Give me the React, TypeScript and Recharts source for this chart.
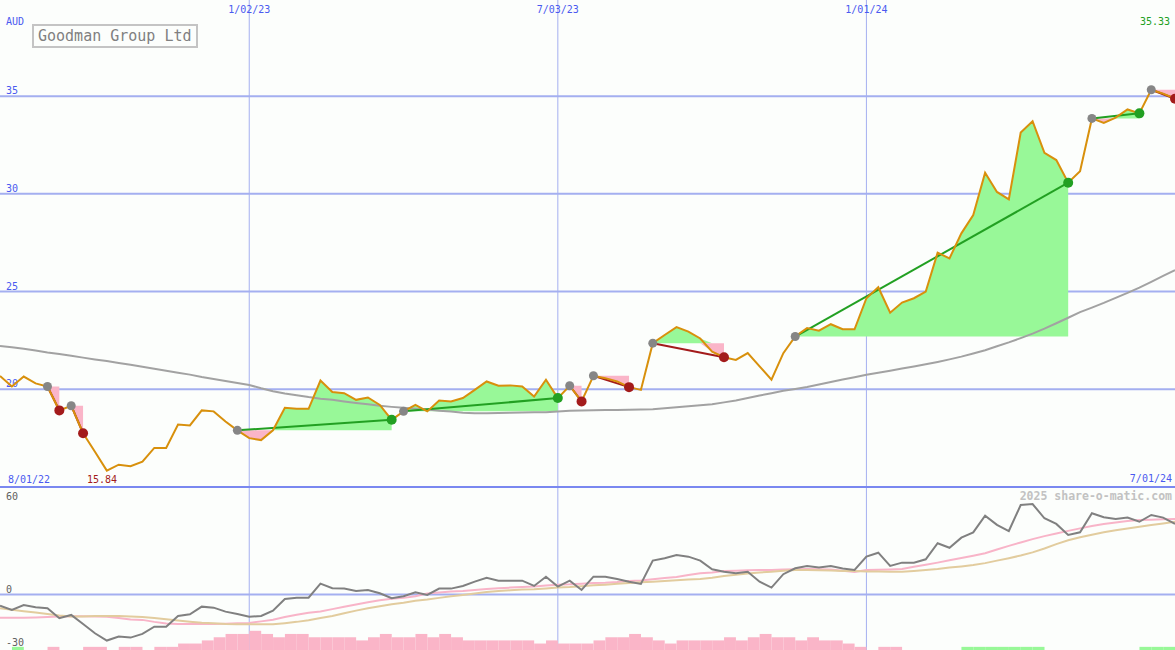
import { Area, Bar, ComposedChart, Line, ReferenceLine, XAxis, YAxis } from "recharts";

// weekly closes, Aug 2022 .. Jul 2024
const price = [
  20.68, 20.14, 20.65, 20.3, 20.14, 18.92, 19.16, 17.75, 16.8, 15.84,
  16.14, 16.06, 16.3, 17.0, 17.0, 18.2, 18.15, 18.92, 18.87, 18.35,
  17.9, 17.5, 17.4, 17.9, 19.05, 19.0, 19.0, 20.45, 19.86, 19.8,
  19.46, 19.58, 19.2, 18.44, 18.87, 19.2, 18.87, 19.43, 19.38, 19.55,
  19.97, 20.4, 20.18, 20.2, 20.14, 19.63, 20.49, 19.55, 20.18, 19.38,
  20.69, 20.57, 20.4, 20.11, 19.97, 22.36, 22.78, 23.18, 22.95, 22.6,
  21.93, 21.64, 21.5, 21.85, 21.17, 20.49, 21.85, 22.7, 23.13, 23.0,
  23.33, 23.07, 23.07, 24.66, 25.22, 23.92, 24.44, 24.66, 25.0, 26.99,
  26.7, 27.98, 28.92, 31.08, 30.1, 29.72, 33.14, 33.72, 32.1, 31.73,
  30.57, 31.16, 33.86, 33.63, 33.9, 34.32, 34.12, 35.33, 35.13, 34.87,
];

const longAverage = [
  22.22, 22.15, 22.08, 21.98, 21.88, 21.8, 21.72, 21.62, 21.53, 21.45,
  21.35, 21.25, 21.15, 21.05, 20.95, 20.85, 20.75, 20.63, 20.53, 20.42,
  20.32, 20.22, 20.05, 19.9, 19.78, 19.7, 19.6, 19.52, 19.46, 19.38,
  19.3, 19.23, 19.16, 19.1, 19.05, 19.0, 18.96, 18.9, 18.86, 18.8,
  18.78, 18.78, 18.79, 18.8, 18.81, 18.82, 18.83, 18.86, 18.9, 18.92,
  18.93, 18.94, 18.94, 18.95, 18.96, 18.98, 19.03, 19.08, 19.13, 19.18,
  19.24, 19.33, 19.43, 19.55, 19.68, 19.8, 19.92, 20.02, 20.12, 20.24,
  20.37, 20.5, 20.62, 20.74, 20.85, 20.95, 21.06, 21.17, 21.28, 21.4,
  21.53, 21.67, 21.83, 22.0, 22.2, 22.4, 22.62, 22.85, 23.1, 23.38,
  23.66, 23.95, 24.18, 24.42, 24.68, 24.93, 25.2, 25.5, 25.8, 26.1,
];

const momentum = [
  -6.7, -9.3, -6.3, -7.7, -8.3, -14.3, -12.3, -17.8, -23.4, -27.8,
  -25.4, -26, -23.8, -19.4, -19.4, -12.9, -11.9, -7.3, -7.9, -10.3,
  -11.7, -13.4, -12.9, -9.7, -2.7, -1.9, -1.9, 6.6, 3.8, 3.6,
  2.2, 2.8, 0.8, -2.2, -1.0, 1.4, -0.2, 3.6, 3.6, 5.2,
  7.8, 10.2, 8.4, 8.4, 8.4, 5.2, 10.8, 4.8, 8.4, 2.8,
  10.8, 10.8, 9.4, 7.8, 6.4, 20.5, 21.9, 23.9, 22.9, 20.5,
  15.3, 13.8, 12.9, 13.8, 7.8, 4.2, 12.3, 15.9, 17.3, 16.3,
  17.3, 15.7, 14.9, 22.9, 25.3, 17.3, 19.3, 19.3, 21.3, 31,
  28.3, 34.4, 37.6, 47.7, 42.1, 38.4, 54.1, 54.7, 46.1, 42.7,
  36, 37.6, 49.1, 46.7, 45.7, 46.5, 44.0, 48.1, 46.5, 42.7,
];

const fastAverage = [
  -14.0, -14.0, -14.0, -13.8, -13.5, -13.2, -13.1, -13.1, -13.2, -13.4,
  -14.2, -15.0, -15.3, -16.5, -17.5, -17.8, -17.8, -17.8, -17.8, -17.6,
  -17.4, -17.2, -16.2, -15.2, -13.6, -12.2, -11.0, -10.2, -8.8, -7.4,
  -6.0, -4.6, -3.5, -2.6, -2.0, -1.0, 0.6, 1.2, 1.8, 2.2,
  2.8, 3.3, 3.8, 4.2, 4.6, 4.9, 5.5, 6.0, 6.2, 6.6,
  7.0, 7.2, 7.6, 8.2, 8.5, 9.2, 10.0, 10.6, 11.8, 12.9,
  13.4, 14.2, 14.4, 14.7, 14.8, 14.9, 15.1, 15.3, 15.4, 15.3,
  15.2, 14.4, 13.6, 14.9, 15.0, 15.2, 15.4, 16.8, 18.0, 19.3,
  20.7, 22.1, 23.5, 25.0, 27.2, 29.4, 31.5, 33.5, 35.3, 36.9,
  38.5, 40.0, 41.4, 42.7, 43.6, 44.4, 45.0, 45.2, 45.5, 45.7,
];

const slowAverage = [
  -8.3, -9.2, -10.1, -10.9, -11.8, -12.6, -13.2, -13.2, -13.0, -12.9,
  -13.0, -13.2, -13.5, -14.2, -14.9, -15.7, -16.4, -17.0, -17.4, -17.8,
  -18.0, -18.0, -18.0, -18.0, -17.3, -16.5, -15.5, -14.2, -12.9, -11.3,
  -9.7, -8.3, -7.0, -5.8, -4.9, -3.8, -3.0, -2.0, -1.0, -0.2,
  0.6, 1.5, 2.2, 2.6, 3.0, 3.2, 3.7, 4.2, 4.5, 5.0,
  5.6, 6.0, 6.5, 7.0, 7.4, 7.8, 8.2, 8.6, 9.1, 9.4,
  10.2, 11.2, 12.0, 12.8, 13.4, 13.8, 14.4, 14.8, 14.9, 14.7,
  14.5, 14.3, 14.2, 14.0, 13.9, 13.8, 13.8, 14.3, 14.9, 15.5,
  16.3, 17.0, 17.8, 19.0, 20.5, 22.0, 23.6, 25.5, 27.8, 30.5,
  32.8, 34.6, 36.2, 37.6, 38.8, 39.9, 41.0, 42.0, 43.0, 44.0,
];

// negative = pink bar, positive = green bar
const histogram = [
  0, 1.9, 0, 0, -1.9, 0, 0, -1.9, -1.9, 0,
  -1.9, -1.9, 0, -1.9, -1.9, -3.9, -3.9, -5.8, -7.7, -9.7,
  -9.7, -11.6, -9.7, -7.7, -9.7, -9.7, -7.7, -7.7, -7.7, -7.7,
  -5.8, -7.7, -9.7, -7.7, -7.7, -9.7, -7.7, -9.7, -7.7, -5.8,
  -5.8, -5.8, -5.8, -5.8, -5.8, -3.9, -5.8, -3.9, -3.9, -3.9,
  -5.8, -7.7, -7.7, -9.7, -7.7, -5.8, -3.9, -5.8, -5.8, -5.8,
  -5.8, -7.7, -5.8, -7.7, -9.7, -7.7, -7.7, -5.8, -7.7, -5.8,
  -5.8, -3.9, -1.9, 0, -1.9, -1.9, 0, 0, 0, 0,
  0, 1.9, 1.9, 1.9, 1.9, 1.9, 1.9, 1.9, 0, 0,
  0, 0, 0, 0, 0, 0, 1.9, 1.9, 1.9, 0,
];

const tradeStarts = [5, 7, 21, 35, 49, 51, 56, 68, 93, 98];
const tradeEnds = [6, 8, 34, 48, 50, 54, 62, 91, 97, 100];

const gridWeeks = [22, 48, 74];
const gridLabels = ["1/02/23", "7/03/23", "1/01/24"];
const priceLevels = [20, 25, 30, 35];
const firstDate = "8/01/22";
const lastDate = "7/01/24";

const W = 1175;
const TOP_H = 487;
const BOTTOM_H = 163;
const WEEK_PX = W / (price.length - 1);
const HIST_BASE = -33.5;
const MONO = "DejaVu Sans Mono, monospace";
const GRID = "#a4aff0";
const BLUE = "#4a5af0";
const GREEN_FILL = "#98f898";
const PINK = "#fab5c8";
const GREEN = "#22a022";
const DARK_RED = "#a31b1b";
const noMargin = { top: 0, right: 0, bottom: 0, left: 0 };
const layer = { position: "absolute" as const, left: 0, top: 0 };

const rows = price.map((close, i) => {
  const week = i + 1;
  const row: Record<string, unknown> = {
    week,
    close,
    avg: longAverage[i],
    mom: momentum[i],
    fast: fastAverage[i],
    slow: slowAverage[i],
    hist: histogram[i] === 0 ? null : [HIST_BASE, HIST_BASE + Math.abs(histogram[i])],
    histUp: histogram[i] > 0,
    entry: tradeStarts.includes(week) ? close : null,
    exit: tradeEnds.includes(week) ? close : null,
  };
  tradeStarts.forEach((start, k) => {
    const end = tradeEnds[k];
    const entry = price[start - 1];
    const inside = week >= start && week <= end;
    row[`up${k}`] = inside ? [entry, Math.max(entry, close)] : null;
    row[`dn${k}`] = inside ? [Math.min(entry, close), entry] : null;
    row[`tr${k}`] = week === start || week === end ? close : null;
  });
  return row;
});

const minIndex = price.indexOf(Math.min(...price));
const maxIndex = price.indexOf(Math.max(...price));

function tradeWon(k: number) {
  return price[tradeEnds[k] - 1] >= price[tradeStarts[k] - 1];
}

function EntryDot(props: any) {
  if (props.value == null || props.cy == null) return <g key={`en${props.index}`} />;
  return <circle key={`en${props.index}`} cx={props.cx} cy={props.cy} r={4.5} fill="#868686" />;
}

function ExitDot(props: any) {
  if (props.value == null || props.cy == null) return <g key={`ex${props.index}`} />;
  const k = tradeEnds.indexOf(props.payload.week);
  return (
    <circle
      key={`ex${props.index}`}
      cx={props.cx}
      cy={props.cy}
      r={5}
      fill={tradeWon(k) ? GREEN : DARK_RED}
    />
  );
}

// bar starts at its week and runs one week to the right
function HistBar(props: any) {
  if (!props.height) return <g />;
  return (
    <rect
      x={props.x + props.width / 2}
      y={props.y}
      width={WEEK_PX}
      height={props.height}
      fill={props.payload.histUp ? GREEN_FILL : PINK}
    />
  );
}

export default function App() {
  return (
    <div
      style={{
        position: "fixed",
        left: 0,
        top: 0,
        width: W,
        height: TOP_H + BOTTOM_H,
        background: "#fcfefc",
        overflow: "hidden",
      }}
    >
      {/* price panel grid, drawn underneath the series */}
      <div style={layer}>
        <ComposedChart width={W} height={TOP_H} data={rows} margin={noMargin}>
          <XAxis dataKey="week" type="number" domain={[1, price.length]} hide />
          <YAxis type="number" domain={[15, 39.92]} hide allowDataOverflow />
          {priceLevels.map((level) => (
            <ReferenceLine
              key={`h${level}`}
              y={level}
              stroke={GRID}
              strokeWidth={2}
              label={(p: any) => (
                <text x={6} y={p.viewBox.y - 2} fill={BLUE} fontSize={10} fontFamily={MONO}>
                  {level}
                </text>
              )}
            />
          ))}
          {gridWeeks.map((week, i) => (
            <ReferenceLine
              key={`v${week}`}
              x={week}
              stroke={GRID}
              strokeWidth={1}
              label={(p: any) => (
                <text
                  x={p.viewBox.x}
                  y={13}
                  fill={BLUE}
                  fontSize={10}
                  fontFamily={MONO}
                  textAnchor="middle"
                >
                  {gridLabels[i]}
                </text>
              )}
            />
          ))}
        </ComposedChart>
      </div>

      <div style={layer}>
        <ComposedChart width={W} height={TOP_H} data={rows} margin={noMargin}>
          <XAxis dataKey="week" type="number" domain={[1, price.length]} hide />
          <YAxis type="number" domain={[15, 39.92]} hide allowDataOverflow />
          {tradeStarts.map((_, k) => (
            <Area
              key={`up${k}`}
              dataKey={`up${k}`}
              stroke="none"
              fill={GREEN_FILL}
              fillOpacity={1}
              isAnimationActive={false}
              activeDot={false}
            />
          ))}
          {tradeStarts.map((_, k) => (
            <Area
              key={`dn${k}`}
              dataKey={`dn${k}`}
              stroke="none"
              fill={PINK}
              fillOpacity={1}
              isAnimationActive={false}
              activeDot={false}
            />
          ))}
          <Line
            dataKey="avg"
            stroke="#a2a2a2"
            strokeWidth={2}
            dot={false}
            activeDot={false}
            isAnimationActive={false}
          />
          {tradeStarts.map((_, k) => (
            <Line
              key={`tr${k}`}
              dataKey={`tr${k}`}
              stroke={tradeWon(k) ? GREEN : DARK_RED}
              strokeWidth={2}
              dot={false}
              activeDot={false}
              connectNulls
              isAnimationActive={false}
            />
          ))}
          <Line
            dataKey="entry"
            stroke="none"
            dot={EntryDot}
            activeDot={false}
            isAnimationActive={false}
          />
          <Line
            dataKey="close"
            stroke="#d8900c"
            strokeWidth={2}
            dot={false}
            activeDot={false}
            isAnimationActive={false}
          />
          <Line
            dataKey="exit"
            stroke="none"
            dot={ExitDot}
            activeDot={false}
            isAnimationActive={false}
          />
        </ComposedChart>
      </div>

      {/* oscillator panel */}
      <div style={{ ...layer, top: TOP_H }}>
        <ComposedChart width={W} height={BOTTOM_H} data={rows} margin={noMargin}>
          <XAxis dataKey="week" type="number" domain={[1, price.length]} hide />
          <YAxis type="number" domain={[HIST_BASE, 65]} hide allowDataOverflow />
          <ReferenceLine y={0} stroke={GRID} strokeWidth={2} />
          {gridWeeks.map((week) => (
            <ReferenceLine key={`bv${week}`} x={week} stroke={GRID} strokeWidth={1} />
          ))}
        </ComposedChart>
      </div>

      <div style={{ ...layer, top: TOP_H }}>
        <ComposedChart
          width={W}
          height={BOTTOM_H}
          data={rows}
          margin={noMargin}
          barCategoryGap={0}
          barGap={0}
        >
          <XAxis dataKey="week" type="number" domain={[1, price.length]} hide />
          <YAxis type="number" domain={[HIST_BASE, 65]} hide allowDataOverflow />
          <Bar dataKey="hist" shape={HistBar} isAnimationActive={false} />
          <Line
            dataKey="fast"
            stroke="#f8b4c8"
            strokeWidth={2}
            dot={false}
            activeDot={false}
            isAnimationActive={false}
          />
          <Line
            dataKey="slow"
            stroke="#e2cc9e"
            strokeWidth={2}
            dot={false}
            activeDot={false}
            isAnimationActive={false}
          />
          <Line
            dataKey="mom"
            stroke="#808080"
            strokeWidth={2}
            dot={false}
            activeDot={false}
            isAnimationActive={false}
          />
        </ComposedChart>
      </div>

      <div
        style={{
          position: "absolute",
          left: 0,
          top: TOP_H - 1,
          width: W,
          height: 2,
          background: "#7a88f0",
        }}
      />

      <svg
        width={W}
        height={TOP_H + BOTTOM_H}
        style={{ ...layer, pointerEvents: "none" }}
        fontFamily={MONO}
      >
        <text x={6} y={25} fill={BLUE} fontSize={10}>
          AUD
        </text>
        <rect x={33} y={25} width={164} height={22} fill="#fcfefc" stroke="#c4c4c4" strokeWidth={2} />
        <text x={38} y={41} fill="#808080" fontSize={15}>
          Goodman Group Ltd
        </text>
        <text x={1170} y={25} fill={GREEN} fontSize={10} textAnchor="end">
          {price[maxIndex].toFixed(2)}
        </text>
        <text x={8} y={483} fill={BLUE} fontSize={10}>
          {firstDate}
        </text>
        <text x={87} y={483} fill={DARK_RED} fontSize={10}>
          {price[minIndex].toFixed(2)}
        </text>
        <text x={1172} y={482} fill={BLUE} fontSize={10} textAnchor="end">
          {lastDate}
        </text>
        <text x={1172} y={500} fill="#c2c2c2" fontSize={11.5} fontWeight="bold" textAnchor="end">
          2025 share-o-matic.com
        </text>
        <text x={6} y={500} fill="#606060" fontSize={10}>
          60
        </text>
        <text x={6} y={593} fill="#606060" fontSize={10}>
          0
        </text>
        <text x={6} y={646} fill="#606060" fontSize={10}>
          -30
        </text>
      </svg>
    </div>
  );
}
